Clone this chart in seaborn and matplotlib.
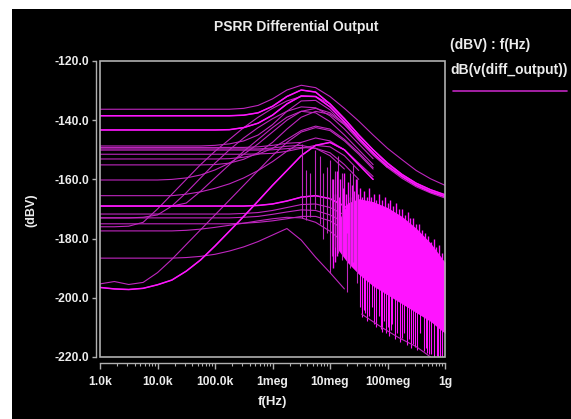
import numpy as np
import pandas as pd
import seaborn as sns
import matplotlib
matplotlib.use("Agg")
import matplotlib.pyplot as plt
from matplotlib.patches import Rectangle
from matplotlib.lines import Line2D
from matplotlib.ticker import LogLocator, NullFormatter

N = np.nan

# ---------------- data ----------------
FREQ_HZ = [1.00e3, 1.78e3, 3.16e3, 5.62e3, 1.00e4, 1.78e4, 3.16e4, 5.62e4,
           1.00e5, 1.78e5, 3.16e5, 5.62e5, 1.00e6, 1.78e6, 3.16e6, 5.62e6,
           1.00e7, 1.78e7, 3.16e7, 5.62e7, 1.00e8, 1.78e8, 3.16e8, 5.62e8, 1.00e9]

run_01 = [-136.3, -136.3, -136.3, -136.3, -136.3, -136.3, -136.3, -136.3, -136.3, -136.3,
          -136.0, -135.0, -132.8, -129.8, -128.2, -129.0, -132.0, -136.0, -140.3, -145.0,
          -149.5, -153.3, -157.0, -159.8, -162.0]
run_02 = [-138.5, -138.5, -138.5, -138.5, -138.5, -138.5, -138.5, -138.5, -138.5, -138.5,
          -138.3, -137.5, -135.3, -132.0, -129.8, -130.5, -134.5, -139.5, -145.0, -150.0,
          -154.5, -158.3, -161.3, -163.5, -165.2]
run_03 = [-143.3, -143.3, -143.3, -143.3, -143.3, -143.3, -143.3, -143.3, -143.3, -143.2,
          -142.5, -141.0, -138.3, -134.5, -131.8, -132.0, -135.5, -140.5, -146.0, -151.0,
          -155.5, -159.0, -162.0, -164.2, -165.8]
run_04 = [-148.7, -148.7, -148.7, -148.7, -148.7, -148.7, -148.7, -148.7, -148.5, -148.0,
          -147.0, -145.0, -141.5, -137.0, -133.5, -133.3, -136.5, -141.5, -146.8, -151.8,
          -156.0, -159.6, -162.5, -164.6, -166.3]
run_05 = [-176.0, -176.0, -175.8, -174.5, -170.0, -165.0, -160.0, -155.0, -150.5, -146.5,
          -142.5, -139.0, -136.0, -133.5, -132.0, -132.0, -134.5, -139.5, -145.0, -150.0,
          -154.8, -158.7, -161.7, -163.9, -165.5]
run_06 = [-195.3, -194.5, -195.5, -194.8, -191.5, -187.0, -182.0, -177.0, -172.0, -167.0,
          -162.0, -157.0, -152.0, -147.5, -144.0, -142.5, -143.5, -147.0, -151.5, -156.5,
          N, N, N, N, N]
run_07 = [-196.5, -197.0, -197.2, -196.8, -195.6, -194.0, -191.0, -187.2, -182.5, -177.5,
          -172.5, -167.3, -162.0, -157.0, -152.0, -148.5, -147.5, -150.0, -155.0, -160.0,
          N, N, N, N, N]
run_08 = [-150.1, -150.1, -150.1, -150.1, -150.1, -150.1, -150.1, -150.1, -150.1, -150.1,
          -150.1, -150.1, -150.0, -149.6, -149.2, -149.5, -151.0, -155.0, -160.0,
          N, N, N, N, N, N]
run_09 = [-149.2, -149.2, -149.2, -149.2, -149.2, -149.2, -149.2, -149.2, -149.2, -149.2,
          -149.2, -149.0, -148.5, -147.8, -147.5, N, N, N, N, N, N, N, N, N, N]
run_10 = [-149.7, -149.7, -149.7, -149.7, -149.7, -149.7, -149.7, -149.7, -149.7, -149.7,
          -149.7, -149.7, -149.4, -148.8, -148.5, -149.5, -152.0, -156.5,
          N, N, N, N, N, N, N]
run_11 = [-151.5, -151.5, -151.5, -151.5, -151.5, -151.5, -151.5, -151.5, -151.5, -151.5,
          -151.5, -151.4, -151.2, -150.5, -149.5, -148.5, -149.0, -152.0, -157.0,
          N, N, N, N, N, N]
run_12 = [-153.1, -153.1, -153.1, -153.1, -153.1, -153.1, -153.1, -153.1, -153.1, -153.0,
          -152.5, -151.5, -149.5, -146.5, -143.5, -142.0, -143.0, -146.5, -151.0, -156.0,
          N, N, N, N, N]
run_13 = [-155.1, -155.1, -155.1, -155.1, -155.1, -155.1, -155.1, -155.1, -155.0, -154.5,
          -153.2, -151.0, -147.5, -143.0, -139.0, -137.0, -138.0, -141.5, -146.5, -151.5,
          -156.0, N, N, N, N]
run_14 = [-160.2, -160.2, -160.2, -160.2, -160.2, -160.0, -159.5, -158.5, -156.8, -154.5,
          -151.5, -148.0, -144.0, -140.0, -137.0, -136.0, -137.5, -141.0, -146.0, -151.0,
          -156.0, N, N, N, N]
run_15 = [-165.5, -165.5, -165.5, -165.5, -165.5, -165.5, -165.0, -164.2, -163.0, -161.5,
          -159.5, -157.0, -154.0, -150.5, -147.5, -146.0, -147.0, -150.0, -154.5, -159.0,
          N, N, N, N, N]
run_16 = [-169.0, -169.0, -169.0, -169.0, -169.0, -169.0, -169.0, -169.0, -169.0, -169.0,
          -169.0, -168.8, -168.3, -167.3, -166.0, -165.5, -166.5, -169.0, -172.5, -176.0,
          N, N, N, N, N]
run_17 = [-171.7, -171.7, -171.7, -171.7, -171.7, -171.7, -171.7, -171.7, -171.7, -171.7,
          -171.5, -171.2, -170.5, -169.5, -168.5, -168.3, -169.5, -172.0, -175.5, -179.0,
          N, N, N, N, N]
run_18 = [-173.0, -173.0, -173.0, -173.0, -173.0, -173.0, -173.0, -173.0, -173.0, -173.0,
          -172.8, -172.5, -171.8, -171.0, -170.3, -170.5, -172.0, -174.5, -178.0,
          N, N, N, N, N, N]
run_19 = [-175.0, -175.0, -175.0, -175.0, -175.0, -175.0, -175.0, -175.0, -175.0, -175.0,
          -174.8, -174.5, -174.0, -173.3, -172.5, -172.5, -174.0, -177.0, -180.5,
          N, N, N, N, N, N]
run_20 = [-177.4, -177.4, -177.4, -177.4, -177.4, -177.4, -177.2, -176.8, -176.2, -175.5,
          -174.8, -174.0, -173.3, -172.8, -173.0, -174.5, -177.5, -181.5, -185.0,
          N, N, N, N, N, N]
run_21 = [-186.6, -186.6, -186.6, -186.6, -186.6, -186.6, -186.4, -186.0, -185.3, -184.2,
          -182.8, -181.0, -178.8, -176.6, -180.5, -186.3, -191.5, -197.0,
          N, N, N, N, N, N, N]
run_22 = [-173.0, -173.0, -173.0, -172.8, -172.0, -169.0, -164.5, -159.5, -154.5, -150.0,
          -146.0, -142.5, -139.5, -137.0, -135.5, -135.8, -138.5, -143.0, -148.0, -153.0,
          N, N, N, N, N]
run_23 = [-169.0, -169.0, -169.0, -169.0, -169.0, -169.0, -168.0, -164.0, -159.5, -155.0,
          -150.5, -146.5, -142.5, -139.0, -137.0, -137.5, -140.5, -145.0, -150.0, -155.0,
          N, N, N, N, N]

RUNS = {"run_01": run_01, "run_02": run_02, "run_03": run_03, "run_04": run_04,
        "run_05": run_05, "run_06": run_06, "run_07": run_07, "run_08": run_08,
        "run_09": run_09, "run_10": run_10, "run_11": run_11, "run_12": run_12,
        "run_13": run_13, "run_14": run_14, "run_15": run_15, "run_16": run_16,
        "run_17": run_17, "run_18": run_18, "run_19": run_19, "run_20": run_20,
        "run_21": run_21, "run_22": run_22, "run_23": run_23}
BRIGHT_RUNS = ["run_07", "run_16", "run_03", "run_02"]

# dense noise band at high frequency (solid core)
NOISE_HZ = [1.41e7, 2.00e7, 3.16e7, 5.62e7, 1.00e8, 1.78e8, 3.16e8, 5.62e8, 1.00e9]
noise_upper = [-174.0, -168.0, -166.5, -167.5, -169.5, -172.5, -176.5, -181.5, -188.0]
noise_lower = [-184.0, -188.0, -192.0, -196.0, -199.0, -202.0, -205.0, -208.0, -212.0]

# upward noise spikes above the core
up_hz = [1.12e7, 1.20e7, 1.32e7, 1.41e7, 1.51e7, 1.66e7, 1.78e7, 1.91e7, 2.04e7, 2.24e7,
         2.40e7, 2.63e7, 2.82e7, 3.09e7, 3.31e7, 3.63e7, 3.98e7, 4.37e7, 4.79e7, 5.25e7,
         5.75e7, 6.31e7, 7.08e7, 7.94e7, 8.91e7, 1.00e8, 1.12e8, 1.26e8, 1.41e8, 1.58e8,
         1.78e8, 2.00e8, 2.24e8, 2.51e8, 2.82e8, 3.16e8, 3.55e8, 3.98e8, 4.47e8, 5.01e8,
         5.62e8, 6.31e8, 7.08e8, 7.94e8, 8.91e8]
up_top = [-160.0, -165.0, -157.0, -166.0, -160.0, -163.0, -158.0, -165.0, -161.0, -166.0,
          -162.0, -164.0, -160.0, -165.0, -163.0, -166.0, -164.0, -166.0, -163.0, -166.0,
          -165.0, -167.0, -165.0, -167.0, -166.0, -168.0, -167.0, -169.0, -168.0, -170.0,
          -170.0, -172.0, -171.0, -173.0, -173.0, -175.0, -175.0, -177.0, -178.0, -179.0,
          -181.0, -180.0, -183.0, -182.0, -185.0]
up_base = [-190.0, -188.0, -186.0, -184.0, -182.0, -180.0, -178.0, -176.0, -174.0, -172.0,
           -170.0, -170.0, -169.0, -169.0, -169.0, -169.0, -169.0, -169.0, -169.0, -170.0,
           -170.0, -170.0, -170.0, -171.0, -171.0, -172.0, -172.0, -173.0, -173.0, -174.0,
           -174.0, -175.0, -175.0, -176.0, -177.0, -178.0, -179.0, -180.0, -181.0, -182.0,
           -183.0, -184.0, -185.0, -186.0, -187.0]

# spikes hanging below the noise band
spike_hz = [3.39e7, 3.60e7, 3.89e7, 4.07e7, 4.37e7, 4.79e7, 5.37e7, 5.89e7, 6.31e7, 7.08e7,
            7.59e7, 7.94e7, 8.71e7, 9.33e7, 1.02e8, 1.07e8, 1.15e8, 1.20e8, 1.35e8, 1.48e8,
            1.66e8, 1.82e8, 1.95e8, 2.19e8, 2.40e8, 2.57e8, 2.82e8, 3.02e8, 3.31e8, 3.72e8,
            4.27e8, 4.68e8, 4.90e8, 5.37e8, 5.75e8, 6.46e8, 7.24e8, 7.59e8, 8.32e8, 8.91e8]
spike_bottom = [-203.0, -206.5, -204.0, -205.0, -208.0, -206.0, -203.0, -209.0, -210.0, -206.0,
                -210.5, -211.5, -208.0, -212.0, -210.0, -213.0, -211.0, -209.0, -214.0, -212.0,
                -215.0, -213.5, -212.0, -216.0, -214.0, -217.0, -215.5, -216.5, -217.5, -212.0,
                -218.0, -217.0, -218.5, -219.0, -219.0, -220.0, -219.5, -220.0, -220.0, -220.0]
spike_top = [-191.0, -191.0, -192.0, -192.0, -192.0, -193.0, -193.0, -194.0, -194.0, -195.0,
             -196.0, -196.0, -196.5, -197.0, -197.0, -197.5, -198.0, -198.0, -198.5, -199.0,
             -199.5, -200.0, -200.0, -200.5, -201.0, -201.5, -202.0, -202.5, -203.0, -203.5,
             -204.0, -204.5, -205.0, -205.5, -206.0, -206.5, -207.0, -207.5, -208.0, -208.5]
floor_hz = [3.55e7, 7.94e7, 1.58e8, 3.16e8, 5.62e8]
floor_db = [-205.5, -210.0, -213.5, -216.5, -220.0]

# vertical jumps in the transition region
jump_hz = [3.26e6, 3.83e6, 4.49e6, 5.48e6, 6.70e6, 7.60e6, 8.87e6, 1.00e7, 1.10e7, 1.22e7,
           1.38e7, 1.62e7, 1.98e7, 2.23e7, 2.51e7, 2.95e7]
jump_top = [-148.0, -156.8, -157.8, -150.0, -152.0, -158.0, -155.8, -153.4, -160.0, -157.0,
            -152.0, -158.0, -178.0, -158.0, -155.0, -160.0]
jump_bottom = [-173.0, -173.7, -172.7, -170.0, -175.0, -180.0, -178.0, -191.6, -186.0, -182.7,
               -185.0, -187.2, -198.0, -190.0, -188.0, -195.0]

X_TICKS = [1e3, 1e4, 1e5, 1e6, 1e7, 1e8, 1e9]
X_LABELS = ["1.0k", "10.0k", "100.0k", "1meg", "10meg", "100meg", "1g"]
Y_TICKS = [-220, -200, -180, -160, -140, -120]
Y_LABELS = ["-220.0", "-200.0", "-180.0", "-160.0", "-140.0", "-120.0"]

TITLE = "PSRR Differential Output"
LEGEND_HEAD = "(dBV) : f(Hz)"
LEGEND_NAME = "dB(v(diff_output))"
# ---------------------------------------------------------------

rows = []
for name, vals in RUNS.items():
    for f, v in zip(FREQ_HZ, vals):
        if not np.isnan(v):
            rows.append({"run": name, "freq": f, "db": v})
df = pd.DataFrame(rows)
df_bright = df[df["run"].isin(BRIGHT_RUNS)]

sns.set_style("ticks")
plt.rcParams["font.family"] = ["Liberation Sans", "DejaVu Sans"]

W, H = 571, 419
MAG = "#bf26bf"
MAG_BRIGHT = "#ff14ff"
GREY = "#b0b0b0"
TXT = "#ececec"

fig = plt.figure(figsize=(W / 100, H / 100), dpi=100)
fig.patch.set_facecolor("white")
fig.patches.append(Rectangle((12 / W, 0), 1 - 12 / W, 1 - 9 / H, transform=fig.transFigure,
                             facecolor="black", edgecolor="none", zorder=-10))

ax = fig.add_axes([100 / W, 1 - 357 / H, 345 / W, 296 / H])
ax.set_facecolor("black")
ax.set_xscale("log")

sns.lineplot(data=df, x="freq", y="db", units="run", estimator=None, sort=False,
             color=MAG, lw=0.8, ax=ax, legend=False)
sns.lineplot(data=df_bright, x="freq", y="db", units="run", estimator=None, sort=False,
             color=MAG_BRIGHT, lw=1.1, ax=ax, legend=False)

ax.fill_between(NOISE_HZ, noise_lower, noise_upper, color=MAG_BRIGHT, lw=0, zorder=3)
ax.vlines(up_hz, up_base, up_top, color=MAG_BRIGHT, lw=1.0, zorder=3)
ax.vlines(spike_hz, spike_bottom, spike_top, color=MAG_BRIGHT, lw=0.8, zorder=3)
ax.vlines(jump_hz, jump_bottom, jump_top, color=MAG, lw=0.8, zorder=3)
ax.plot(floor_hz, floor_db, color=MAG, lw=0.8, zorder=3)

ax.set_xlim(1e3, 1e9)
ax.set_ylim(-220, -120)
ax.set_xlabel("")
ax.set_ylabel("")

ax.set_xticks(X_TICKS)
ax.set_xticklabels(X_LABELS)
ax.xaxis.set_minor_locator(LogLocator(base=10, subs=(2, 3, 4, 5, 6, 7, 8, 9)))
ax.xaxis.set_minor_formatter(NullFormatter())
ax.set_yticks(Y_TICKS)
ax.set_yticklabels(Y_LABELS)

for s in ["top", "right"]:
    ax.spines[s].set_visible(False)
for s in ["left", "bottom"]:
    ax.spines[s].set_color(GREY)
    ax.spines[s].set_linewidth(1.0)
ax.spines["left"].set_position(("outward", 3))
ax.spines["bottom"].set_position(("outward", 4))

ax.tick_params(axis="x", which="major", direction="out", length=4.5, width=1, color=GREY,
               labelcolor=TXT, labelsize=8.7, pad=5, bottom=True)
ax.tick_params(axis="x", which="minor", direction="out", length=2.5, width=0.8, color=GREY,
               bottom=True)
ax.tick_params(axis="y", which="major", direction="out", length=3, width=1, color=GREY,
               labelcolor=TXT, labelsize=8.7, pad=1.5, left=True)
for lbl in ax.get_xticklabels() + ax.get_yticklabels():
    lbl.set_fontweight("bold")

ax.add_patch(Rectangle((0, 0), 1, 1, transform=ax.transAxes, fill=False, ec=GREY,
                       lw=1.2, clip_on=False, zorder=6))

fig.text(296 / W, 1 - 27 / H, TITLE, ha="center", va="center", color=TXT,
         fontsize=10, fontweight="bold")
fig.text(31 / W, 1 - 210 / H, "(dBV)", ha="center", va="center", rotation=90,
         color=TXT, fontsize=9, fontweight="bold")
fig.text(272 / W, 1 - 402 / H, "f(Hz)", ha="center", va="center", color=TXT,
         fontsize=9.5, fontweight="bold")
fig.text(450 / W, 1 - 45 / H, LEGEND_HEAD, ha="left", va="center", color=TXT,
         fontsize=10, fontweight="bold")
fig.text(450 / W, 1 - 70 / H, LEGEND_NAME, ha="left", va="center", color=TXT,
         fontsize=10, fontweight="bold")
fig.add_artist(Line2D([453 / W, 567 / W], [1 - 91 / H, 1 - 91 / H], transform=fig.transFigure,
                      color=MAG, lw=1.2))

fig.savefig("out.png", dpi=100, facecolor=fig.get_facecolor())
